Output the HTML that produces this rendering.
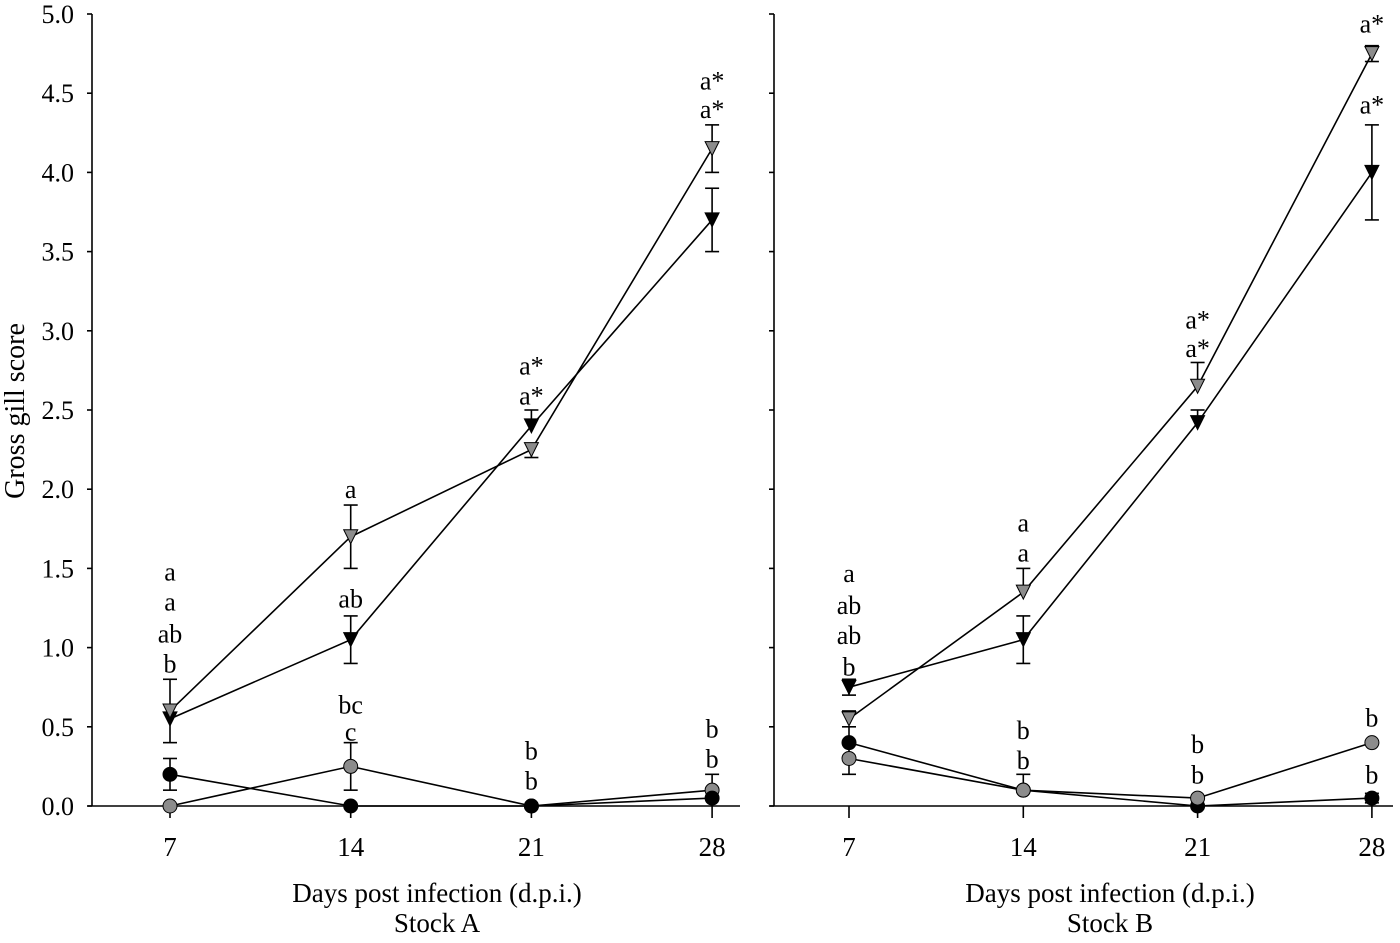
<!DOCTYPE html>
<html><head><meta charset="utf-8"><style>
body{margin:0;background:#fff}
svg text{font-family:"Liberation Serif",serif;fill:#000}
</style></head><body>
<svg id="c" width="1400" height="938" viewBox="0 0 1400 938"></svg>
<script>
const days=[7,14,21,28];
const yTicks=[0,0.5,1,1.5,2,2.5,3,3.5,4,4.5,5];
// Stock A
const aGrayTri=[0.6,1.7,2.25,4.15], aGrayTriUp=[0.2,0.2,0,0.15], aGrayTriDn=[0,0.2,0.05,0.15];
const aBlackTri=[0.55,1.05,2.4,3.7], aBlackTriUp=[0,0.15,0.1,0.2], aBlackTriDn=[0.15,0.15,0,0.2];
const aBlackCirc=[0.2,0,0,0.05], aBlackCircUp=[0.1,0,0,0], aBlackCircDn=[0.1,0,0,0];
const aGrayCirc=[0,0.25,0,0.1], aGrayCircUp=[0,0.15,0,0.1], aGrayCircDn=[0,0.15,0,0];
// Stock B
const bGrayTri=[0.55,1.35,2.65,4.75], bGrayTriUp=[0.05,0.15,0.15,0.05], bGrayTriDn=[0,0,0,0.05];
const bBlackTri=[0.75,1.05,2.42,4.0], bBlackTriUp=[0.05,0.15,0.08,0.3], bBlackTriDn=[0.05,0.15,0,0.3];
const bBlackCirc=[0.4,0.1,0,0.05], bBlackCircUp=[0.1,0,0,0.03], bBlackCircDn=[0,0,0,0.03];
const bGrayCirc=[0.3,0.1,0.05,0.4], bGrayCircUp=[0.1,0.1,0,0], bGrayCircDn=[0.1,0,0,0];
// letters [day index, label, y value position]
const aLetters=[[0,'a',1.48],[0,'a',1.29],[0,'ab',1.09],[0,'b',0.9],[1,'a',2.0],[1,'ab',1.31],[1,'bc',0.64],[1,'c',0.47],[2,'a*',2.78],[2,'a*',2.59],[2,'b',0.35],[2,'b',0.16],[3,'a*',4.58],[3,'a*',4.4],[3,'b',0.49],[3,'b',0.3]];
const bLetters=[[0,'a',1.47],[0,'ab',1.27],[0,'ab',1.08],[0,'b',0.88],[1,'a',1.79],[1,'a',1.6],[1,'b',0.48],[1,'b',0.29],[2,'a*',3.07],[2,'a*',2.89],[2,'b',0.39],[2,'b',0.2],[3,'a*',4.94],[3,'a*',4.43],[3,'b',0.56],[3,'b',0.2]];

const svg=document.getElementById('c');
const NS='http://www.w3.org/2000/svg';
function mk(t,a,p){const e=document.createElementNS(NS,t);for(const k in a)e.setAttribute(k,a[k]);(p||svg).appendChild(e);return e;}
const Y=v=>806-v*158.4;

function panel(name,x0,x1,yAxisX,xs,series,letters,showY){
  const g=mk('g',{});
  
  
  const X=i=>xs[0]+(xs[1]-xs[0])*i;
  const ax=mk('g',{stroke:'#000','stroke-width':1.6},g);
  
  
  mk('line',{x1:x0,y1:806,x2:x1,y2:806},ax);
  mk('line',{x1:yAxisX,y1:14,x2:yAxisX,y2:806},ax);
  yTicks.forEach(v=>{mk('line',{x1:yAxisX-5,y1:Y(v),x2:yAxisX,y2:Y(v)},ax);
    if(showY){const t=mk('text',{x:74,y:Y(v)+9,'text-anchor':'end','font-size':26},g);t.textContent=v.toFixed(1);
      
      }});
  days.forEach((d,i)=>{mk('line',{x1:X(i),y1:806,x2:X(i),y2:818},ax);
    const t=mk('text',{x:X(i),y:856,'text-anchor':'middle','font-size':27},g);t.textContent=d;
    
    });
  series.forEach(s=>{
    const sg=mk('g',{},g);
    
    
    mk('polyline',{points:s.v.map((v,i)=>X(i)+','+Y(v)).join(' '),fill:'none',stroke:'#000','stroke-width':1.6},sg);
    s.v.forEach((v,i)=>{
      const cx=X(i),cy=Y(v);
      if(s.up[i]>0){mk('line',{x1:cx,y1:cy,x2:cx,y2:Y(v+s.up[i]),stroke:'#000','stroke-width':1.6},sg);mk('line',{x1:cx-7,y1:Y(v+s.up[i]),x2:cx+7,y2:Y(v+s.up[i]),stroke:'#000','stroke-width':1.6},sg);}
      if(s.dn[i]>0){mk('line',{x1:cx,y1:cy,x2:cx,y2:Y(v-s.dn[i]),stroke:'#000','stroke-width':1.6},sg);mk('line',{x1:cx-7,y1:Y(v-s.dn[i]),x2:cx+7,y2:Y(v-s.dn[i]),stroke:'#000','stroke-width':1.6},sg);}
      let m;
      if(s.tri) m=mk('polygon',{points:`${cx-7},${cy-7} ${cx+7},${cy-7} ${cx},${cy+7}`,fill:s.fill,stroke:'#000','stroke-width':1},sg);
      else m=mk('circle',{cx:cx,cy:cy,r:7,fill:s.fill,stroke:'#000','stroke-width':1},sg);
      
      
    });
  });
  letters.forEach(l=>{const t=mk('text',{x:X(l[0]),y:Y(l[2])+9,'text-anchor':'middle','font-size':26},g);t.textContent=l[1];
    
    });
}
panel('stock-a-panel',88,740,92,[170,350.7],[
 {name:'gray-circle-series',v:aGrayCirc,up:aGrayCircUp,dn:aGrayCircDn,fill:'#8c8c8c'},
 {name:'black-circle-series',v:aBlackCirc,up:aBlackCircUp,dn:aBlackCircDn,fill:'#000'},
 {name:'black-triangle-series',v:aBlackTri,up:aBlackTriUp,dn:aBlackTriDn,fill:'#000',tri:1},
 {name:'gray-triangle-series',v:aGrayTri,up:aGrayTriUp,dn:aGrayTriDn,fill:'#8c8c8c',tri:1}],aLetters,true);
panel('stock-b-panel',770,1393,774,[849,1023.3],[
 {name:'black-circle-series',v:bBlackCirc,up:bBlackCircUp,dn:bBlackCircDn,fill:'#000'},
 {name:'gray-circle-series',v:bGrayCirc,up:bGrayCircUp,dn:bGrayCircDn,fill:'#8c8c8c'},
 {name:'black-triangle-series',v:bBlackTri,up:bBlackTriUp,dn:bBlackTriDn,fill:'#000',tri:1},
 {name:'gray-triangle-series',v:bGrayTri,up:bGrayTriUp,dn:bGrayTriDn,fill:'#8c8c8c',tri:1}],bLetters,false);
</script>
<svg width="1400" height="938" style="position:absolute;left:0;top:0">
<text x="24" y="411" transform="rotate(-90 24 411)" text-anchor="middle" font-size="28">Gross gill score</text>
<text x="437" y="902" text-anchor="middle" font-size="27">Days post infection (d.p.i.)</text>
<text x="437" y="932" text-anchor="middle" font-size="27">Stock A</text>
<text x="1110" y="902" text-anchor="middle" font-size="27">Days post infection (d.p.i.)</text>
<text x="1110" y="932" text-anchor="middle" font-size="27">Stock B</text>
</svg>
</body></html>
